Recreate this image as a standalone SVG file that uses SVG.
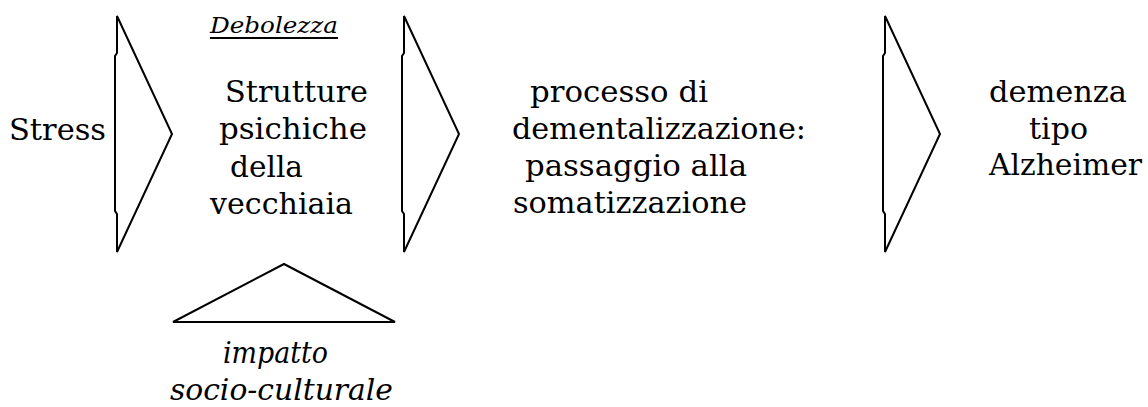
<svg xmlns="http://www.w3.org/2000/svg" xmlns:xlink="http://www.w3.org/1999/xlink" width="1148" height="407" viewBox="0 0 1148 407">
<style>
  .t { font-family: "DejaVu Serif", "Liberation Serif", serif; font-size: 30px; fill: #000; }
  .i { font-family: "DejaVu Serif", "Liberation Serif", serif; font-style: italic; font-size: 30px; fill: #000; }
  .s { fill: none; stroke: #000; stroke-width: 2; stroke-linejoin: miter; }
</style>
<defs>
  <path id="arrow" d="M0,0 L0,37 L-2,40 L-2,195 L0,198 L0,236 L55,118 Z"/>
</defs>
<rect width="1148" height="407" fill="#fff"/>
<g id="connectors">
  <use xlink:href="#arrow" class="s" transform="translate(117,16)"/>
  <use xlink:href="#arrow" class="s" transform="translate(404,16)"/>
  <use xlink:href="#arrow" class="s" transform="translate(885,16)"/>
  <path class="s" d="M173,322 L284,264 L395,322 Z"/>
</g>
<g id="stress">
  <text class="t" x="9" y="140" textLength="97" lengthAdjust="spacingAndGlyphs">Stress</text>
</g>
<g id="debolezza">
  <text class="i" style="font-size:22px" x="210" y="33" textLength="128" lengthAdjust="spacingAndGlyphs">Debolezza</text>
  <line x1="210" y1="38" x2="338" y2="38" stroke="#000" stroke-width="1.8"/>
</g>
<g id="strutture">
  <text class="t" x="225" y="102" textLength="143" lengthAdjust="spacingAndGlyphs">Strutture</text>
  <text class="t" x="219" y="139" textLength="148" lengthAdjust="spacingAndGlyphs">psichiche</text>
  <text class="t" x="230" y="177" textLength="73" lengthAdjust="spacingAndGlyphs">della</text>
  <text class="t" x="210" y="214" textLength="143" lengthAdjust="spacingAndGlyphs">vecchiaia</text>
</g>
<g id="processo">
  <text class="t" x="530" y="102" textLength="178" lengthAdjust="spacingAndGlyphs">processo di</text>
  <text class="t" x="512" y="139" textLength="294" lengthAdjust="spacingAndGlyphs">dementalizzazione:</text>
  <text class="t" x="525" y="176" textLength="222" lengthAdjust="spacingAndGlyphs">passaggio alla</text>
  <text class="t" x="513" y="213" textLength="234" lengthAdjust="spacingAndGlyphs">somatizzazione</text>
</g>
<g id="demenza">
  <text class="t" x="989" y="102" textLength="138" lengthAdjust="spacingAndGlyphs">demenza</text>
  <text class="t" x="1029" y="139" textLength="59" lengthAdjust="spacingAndGlyphs">tipo</text>
  <text class="t" x="989" y="175" textLength="153" lengthAdjust="spacingAndGlyphs">Alzheimer</text>
</g>
<g id="impatto">
  <text class="i" x="223" y="363" textLength="105" lengthAdjust="spacingAndGlyphs">impatto</text>
  <text class="i" x="170" y="400" textLength="223" lengthAdjust="spacingAndGlyphs">socio-culturale</text>
</g>
</svg>
